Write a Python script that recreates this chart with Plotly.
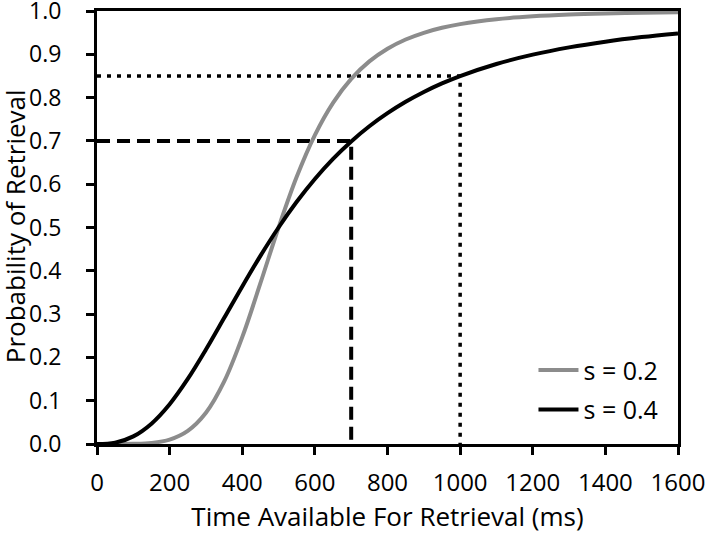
import plotly.graph_objects as go

# time available (ms) and retrieval probabilities
time_ms = [0, 50, 100, 150, 200, 250, 300, 350, 400, 450, 500, 550, 600, 650, 700,
           750, 800, 850, 900, 950, 1000, 1100, 1200, 1300, 1400, 1500, 1600]
p_s02 = [0.0, 0.0, 0.0003, 0.0024, 0.0101, 0.0303, 0.0721, 0.1439, 0.2468, 0.3713,
         0.5, 0.617, 0.7133, 0.7878, 0.8432, 0.8836, 0.9129, 0.9342, 0.9497, 0.9612,
         0.9697, 0.981, 0.9876, 0.9917, 0.9942, 0.9959, 0.997]
p_s04 = [0.0, 0.0032, 0.0176, 0.047, 0.0919, 0.1502, 0.2181, 0.2908, 0.364, 0.4345,
         0.5, 0.5593, 0.612, 0.6584, 0.6987, 0.7338, 0.764, 0.7903, 0.813, 0.8327,
         0.8498, 0.8777, 0.8992, 0.916, 0.9292, 0.9397, 0.9482]

# reference guides
dash_x = [0, 700, 700]
dash_y = [0.7, 0.7, 0]
dot_x = [0, 1000, 1000]
dot_y = [0.85, 0.85, 0]

font = "Open Sans, Lato, sans-serif"

fig = go.Figure()

fig.add_trace(
    go.Scatter(x=dash_x, y=dash_y, mode="lines", showlegend=False, hoverinfo="skip",
               line=dict(color="black", width=4, dash="13px,7px"))
)
fig.add_trace(
    go.Scatter(x=dot_x, y=dot_y, mode="lines", showlegend=False, hoverinfo="skip",
               line=dict(color="black", width=3.5, dash="4px,6px"))
)
fig.add_trace(
    go.Scatter(x=time_ms, y=p_s02, mode="lines", name="s = 0.2", legendgroup="a",
               line=dict(color="#8c8c8c", width=4, shape="spline"))
)
fig.add_trace(
    go.Scatter(x=time_ms, y=p_s04, mode="lines", name="s = 0.4", legendgroup="b",
               line=dict(color="black", width=4, shape="spline"))
)

fig.update_layout(
    width=707,
    height=538,
    template="plotly_white",
    plot_bgcolor="white",
    paper_bgcolor="white",
    font=dict(family=font, size=24, color="black"),
    margin=dict(l=97, r=29, t=11, b=94),
    legend=dict(
        x=0.975, y=0.027, xanchor="right", yanchor="bottom",
        bgcolor="rgba(0,0,0,0)", font=dict(size=25), itemwidth=40,
        tracegroupgap=4,
    ),
)

# y title as an annotation so it can sit at the far left like the original
fig.add_annotation(
    text="Probability of Retrieval", textangle=-90,
    xref="paper", yref="paper", x=0, y=0.503, xanchor="center", yanchor="middle",
    xshift=-82, showarrow=False, font=dict(size=26),
)

fig.update_xaxes(
    range=[0, 1600], tickvals=[0, 200, 400, 600, 800, 1000, 1200, 1400, 1600],
    showgrid=False, zeroline=False, showline=True, linecolor="black", linewidth=3,
    mirror=True, ticks="outside", ticklen=8, tickwidth=3, tickcolor="black",
    ticklabelstandoff=7, ticklabeloverflow="allow", automargin=False,
    title=dict(text="Time Available For Retrieval (ms)", standoff=0,
               font=dict(size=26)),
)
fig.update_yaxes(
    range=[0, 1], tickvals=[0, 0.1, 0.2, 0.3, 0.4, 0.5, 0.6, 0.7, 0.8, 0.9, 1.0],
    tickformat=".1f", ticklabelstandoff=20, ticklabeloverflow="allow",
    automargin=False, tickfont=dict(size=23),
    showgrid=False, zeroline=False, showline=True, linecolor="black", linewidth=3,
    mirror=True, ticks="outside", ticklen=8, tickwidth=3, tickcolor="black",
)

# drop the page's default body margin so the figure sits at the window corner
fig.write_html(
    "out.html",
    config={"displayModeBar": False},
    post_script="document.body.style.margin='0';",
)
